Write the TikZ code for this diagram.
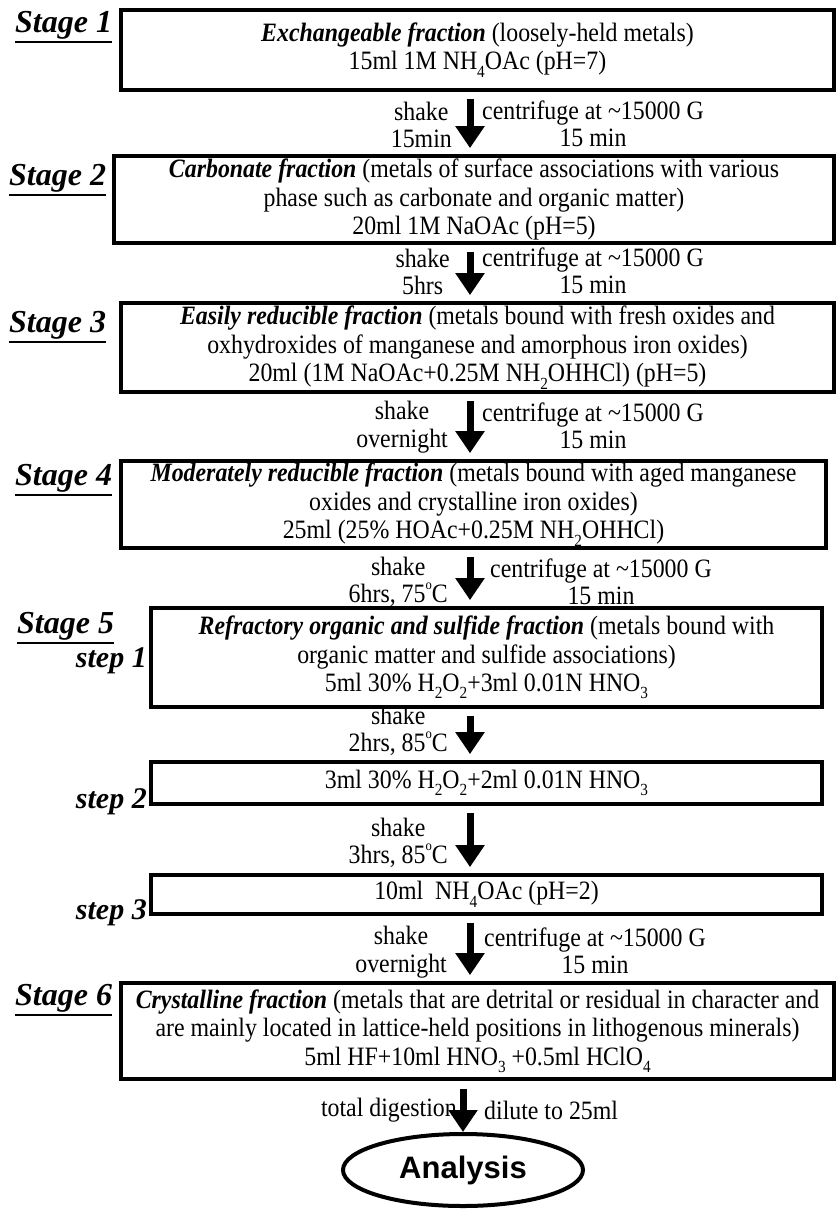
\documentclass[tikz,border=0pt]{standalone}
\usepackage{fontspec}
\setmainfont{Liberation Serif}[FakeStretch=0.9]
\newfontfamily\lblfont{Liberation Serif}
\newfontfamily\anafont{Liberation Sans}
\usetikzlibrary{arrows.meta,shapes.geometric}
\newcommand\dn[1]{\raisebox{-0.28em}{\fontsize{17}{17}\selectfont #1}}
\newcommand\degsym{\raisebox{0.5em}{\fontsize{14}{14}\selectfont o}}
\begin{document}
\begin{tikzpicture}[x=1pt,y=-1pt,
  box/.style={draw, line width=3.8pt, inner sep=0pt, align=center, font=\fontsize{26.5}{28.5}\selectfont},
  lbl/.style={inner sep=0pt, align=center, font=\fontsize{26.5}{27.5}\selectfont},
  stagelbl/.style={inner sep=0pt, font=\lblfont\fontsize{32}{32}\selectfont\bfseries\itshape},
  steplbl/.style={inner sep=0pt, font=\lblfont\fontsize{30}{30}\selectfont\bfseries\itshape},
  uline/.style={line width=2pt},
  flow/.style={line width=7pt, -{Triangle[width=28pt,length=22pt]}, shorten <=7pt, shorten >=6pt}]
\path[use as bounding box] (0,0) rectangle (837,1211);
\coordinate (ax) at (470,0);
\coordinate (ay) at (463,0);
% boxes
\node[box, minimum width=713pt, minimum height=80pt] (b1) at (477.5,50)
  {\textbf{\textit{Exchangeable fraction}} (loosely-held metals)\\15ml 1M NH\dn{4}OAc (pH=7)};
\node[box, minimum width=720pt, minimum height=87pt] (b2) at (474,199.5)
  {\textbf{\textit{Carbonate fraction}} (metals of surface associations with various\\phase such as carbonate and organic matter)\\20ml 1M NaOAc (pH=5)};
\node[box, minimum width=713pt, minimum height=89pt] (b3) at (477.5,347.5)
  {\textbf{\textit{Easily reducible fraction}} (metals bound with fresh oxides and\\oxhydroxides of manganese and amorphous iron oxides)\\20ml (1M NaOAc+0.25M NH\dn{2}OHHCl) (pH=5)};
\node[box, minimum width=705pt, minimum height=87pt] (b4) at (473.5,504.5)
  {\textbf{\textit{Moderately reducible fraction}} (metals bound with aged manganese\\oxides and crystalline iron oxides)\\25ml (25\% HOAc+0.25M NH\dn{2}OHHCl)};
\node[box, minimum width=671pt, minimum height=99pt] (b5) at (486.5,657.5)
  {\textbf{\textit{Refractory organic and sulfide fraction}} (metals bound with\\organic matter and sulfide associations)\\5ml 30\% H\dn{2}O\dn{2}+3ml 0.01N HNO\dn{3}};
\node[box, minimum width=671pt, minimum height=42pt] (b5b) at (486.5,783)
  {3ml 30\% H\dn{2}O\dn{2}+2ml 0.01N HNO\dn{3}};
\node[box, minimum width=671pt, minimum height=39pt] (b5c) at (486.5,894.5)
  {10ml\ \ NH\dn{4}OAc (pH=2)};
\node[box, minimum width=713pt, minimum height=96pt] (b6) at (477.5,1031)
  {\textbf{\textit{Crystalline fraction}} (metals that are detrital or residual in character and\\are mainly located in lattice-held positions in lithogenous minerals)\\5ml HF+10ml HNO\dn{3} +0.5ml HClO\dn{4}};
\node[draw, ellipse, line width=4pt, inner sep=0pt, minimum width=240pt, minimum height=72pt,
  font=\anafont\bfseries\fontsize{31}{31}\selectfont] (an) at (463,1170) {Analysis};
% stage labels
\node[stagelbl, anchor=base west] (s1) at (15,32) {Stage 1};
\node[stagelbl, anchor=base west] (s2) at (9,185) {Stage 2};
\node[stagelbl, anchor=base west] (s3) at (9,332) {Stage 3};
\node[stagelbl, anchor=base west] (s4) at (15,485) {Stage 4};
\node[stagelbl, anchor=base west] (s5) at (17,633) {Stage 5};
\node[stagelbl, anchor=base west] (s6) at (15,1005) {Stage 6};
\foreach \s in {s1,s2,s3,s4,s5,s6}
  \draw[uline] ([yshift=-3pt]\s.south west) -- ([yshift=-3pt]\s.south east);
\node[steplbl, anchor=base east] (t1) at (147,667) {step 1};
\node[steplbl, anchor=base east] (t2) at (147,808) {step 2};
\node[steplbl, anchor=base east] (t3) at (147,919) {step 3};
% arrows
\draw[flow] (b1.south -| ax) -- (b2.north -| ax);
\draw[flow] (b2.south -| ax) -- (b3.north -| ax);
\draw[flow] (b3.south -| ax) -- (b4.north -| ax);
\draw[flow] (b4.south -| ax) -- (b5.north -| ax);
\draw[flow] (b5.south -| ax) -- (b5b.north -| ax);
\draw[flow] (b5b.south -| ax) -- (b5c.north -| ax);
\draw[flow] (b5c.south -| ax) -- (b6.north -| ax);
\draw[flow, shorten >=0pt, shorten <=8pt] (b6.south -| ay) -- (an.north);
% arrow labels
\node[lbl, anchor=east] (l1) at (452,125) {shake\\15min};
\node[lbl, anchor=west] (r1) at (482,124) {centrifuge at \textasciitilde15000 G\\15 min};
\node[lbl, anchor=east] (l2) at (450,272) {shake\\5hrs};
\node[lbl, anchor=west] (r2) at (482,271) {centrifuge at \textasciitilde15000 G\\15 min};
\node[lbl, anchor=east] (l3) at (448,427) {shake\\overnight};
\node[lbl, anchor=west] (r3) at (482,426) {centrifuge at \textasciitilde15000 G\\15 min};
\node[lbl, anchor=east] (l4) at (448,582) {shake\\6hrs, 75\degsym C};
\node[lbl, anchor=west] (r4) at (490,582) {centrifuge at \textasciitilde15000 G\\15 min};
\node[lbl, anchor=east] (l5) at (448,731) {shake\\2hrs, 85\degsym C};
\node[lbl, anchor=east] (l6) at (448,843) {shake\\3hrs, 85\degsym C};
\node[lbl, anchor=east] (l7) at (447,952) {shake\\overnight};
\node[lbl, anchor=west] (r7) at (484,951) {centrifuge at \textasciitilde15000 G\\15 min};
\node[lbl, anchor=east] (l8) at (457,1110) {total digestion};
\node[lbl, anchor=west] (r8) at (484,1110) {dilute to 25ml};
\end{tikzpicture}
\end{document}
